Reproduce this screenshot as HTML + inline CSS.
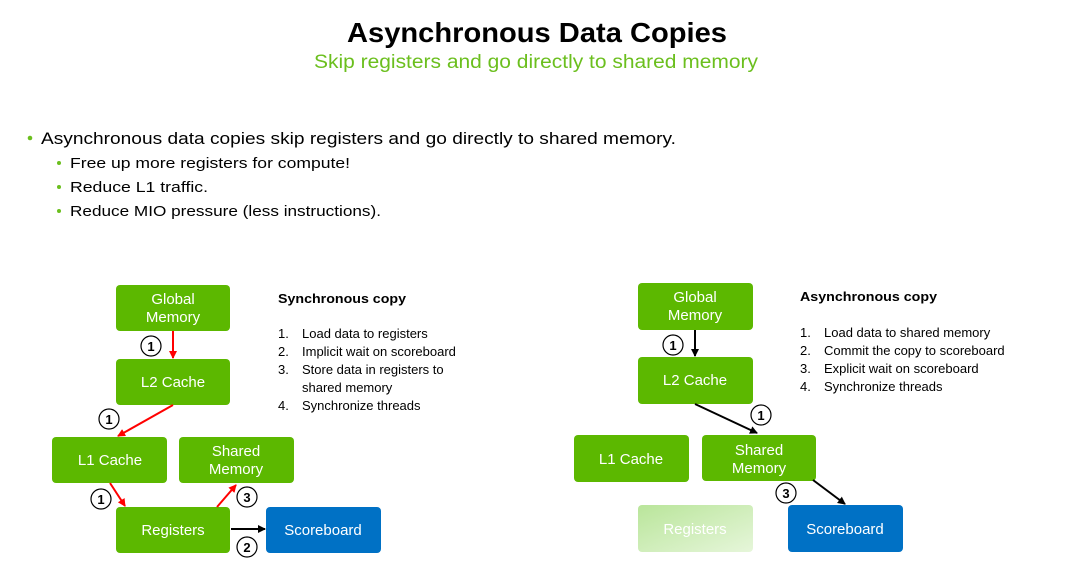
<!DOCTYPE html>
<html><head><meta charset="utf-8"><style>
html,body{margin:0;padding:0;background:#fff;}
svg{display:block;font-family:"Liberation Sans",sans-serif;}
</style></head><body>
<svg width="1080" height="570" viewBox="0 0 1080 570" xmlns="http://www.w3.org/2000/svg">
<defs>
<marker id="ar" markerWidth="8" markerHeight="8" refX="7" refY="4" orient="auto" markerUnits="userSpaceOnUse"><path d="M0,0 L8,4 L0,8 z" fill="#ff0000"/></marker>
<marker id="ab" markerWidth="8" markerHeight="8" refX="7" refY="4" orient="auto" markerUnits="userSpaceOnUse"><path d="M0,0 L8,4 L0,8 z" fill="#000"/></marker>
<linearGradient id="fade" x1="0" y1="0" x2="1" y2="1"><stop offset="0" stop-color="#b9e59a"/><stop offset="1" stop-color="#e6f6da"/></linearGradient>
</defs>
<text x="537" y="42" text-anchor="middle" font-size="28" font-weight="bold" textLength="380" lengthAdjust="spacingAndGlyphs">Asynchronous Data Copies</text>
<text x="536" y="68" text-anchor="middle" font-size="19" fill="#6bbf1e" textLength="444" lengthAdjust="spacingAndGlyphs">Skip registers and go directly to shared memory</text>
<g font-size="17">
<circle cx="30" cy="138" r="2.3" fill="#6bbf1e"/>
<text x="41" y="144" textLength="635" lengthAdjust="spacingAndGlyphs">Asynchronous data copies skip registers and go directly to shared memory.</text>
</g>
<g font-size="15">
<circle cx="59" cy="163" r="2" fill="#6bbf1e"/><text x="70" y="168" textLength="280" lengthAdjust="spacingAndGlyphs">Free up more registers for compute!</text>
<circle cx="59" cy="187" r="2" fill="#6bbf1e"/><text x="70" y="192" textLength="138" lengthAdjust="spacingAndGlyphs">Reduce L1 traffic.</text>
<circle cx="59" cy="211" r="2" fill="#6bbf1e"/><text x="70" y="216" textLength="311" lengthAdjust="spacingAndGlyphs">Reduce MIO pressure (less instructions).</text>
</g>
<!-- left boxes -->
<g fill="#5cb800">
<rect x="116" y="285" width="114" height="46" rx="4"/>
<rect x="116" y="359" width="114" height="46" rx="4"/>
<rect x="52" y="437" width="115" height="46" rx="4"/>
<rect x="179" y="437" width="115" height="46" rx="4"/>
<rect x="116" y="507" width="114" height="46" rx="4"/>
<rect x="638" y="283" width="115" height="47" rx="4"/>
<rect x="638" y="357" width="115" height="47" rx="4"/>
<rect x="574" y="435" width="115" height="47" rx="4"/>
<rect x="702" y="435" width="114" height="46" rx="4"/>
</g>
<rect x="266" y="507" width="115" height="46" rx="4" fill="#0071c5"/>
<rect x="788" y="505" width="115" height="47" rx="4" fill="#0071c5"/>
<rect x="638" y="505" width="115" height="47" rx="4" fill="url(#fade)"/>
<g fill="#fff" font-size="15" text-anchor="middle">
<text x="173" y="304">Global</text><text x="173" y="322">Memory</text>
<text x="173" y="387">L2 Cache</text>
<text x="110" y="465">L1 Cache</text>
<text x="236" y="456">Shared</text><text x="236" y="474">Memory</text>
<text x="173" y="535">Registers</text>
<text x="323" y="535">Scoreboard</text>
<text x="695" y="302">Global</text><text x="695" y="320">Memory</text>
<text x="695" y="385">L2 Cache</text>
<text x="631" y="464">L1 Cache</text>
<text x="759" y="455">Shared</text><text x="759" y="473">Memory</text>
<text x="695" y="534">Registers</text>
<text x="845" y="534">Scoreboard</text>
</g>
<!-- arrows -->
<g stroke="#ff0000" stroke-width="2" fill="none" marker-end="url(#ar)">
<line x1="173" y1="331" x2="173" y2="358"/>
<line x1="173" y1="405" x2="118" y2="436"/>
<line x1="110" y1="483" x2="125" y2="506"/>
<line x1="217" y1="507" x2="236" y2="485"/>
</g>
<g stroke="#000" stroke-width="2" fill="none" marker-end="url(#ab)">
<line x1="231" y1="529" x2="265" y2="529"/>
<line x1="695" y1="330" x2="695" y2="356"/>
<line x1="695" y1="404" x2="757" y2="433"/>
<line x1="813" y1="480" x2="845" y2="504"/>
</g>
<g fill="#fff" stroke="#000" stroke-width="1.2">
<circle cx="151" cy="346" r="10"/><circle cx="109" cy="419" r="10"/><circle cx="101" cy="499" r="10"/><circle cx="247" cy="497" r="10"/><circle cx="247" cy="547" r="10"/>
<circle cx="673" cy="345" r="10"/><circle cx="761" cy="415" r="10"/><circle cx="786" cy="493" r="10"/>
</g>
<g font-size="13" font-weight="bold" text-anchor="middle">
<text x="151" y="351">1</text><text x="109" y="424">1</text><text x="101" y="504">1</text><text x="247" y="502">3</text><text x="247" y="552">2</text>
<text x="673" y="350">1</text><text x="761" y="420">1</text><text x="786" y="498">3</text>
</g>
<g font-size="13">
<text x="278" y="303" font-weight="bold" textLength="128" lengthAdjust="spacingAndGlyphs">Synchronous copy</text>
<text x="278" y="338">1.</text><text x="302" y="338">Load data to registers</text>
<text x="278" y="356">2.</text><text x="302" y="356">Implicit wait on scoreboard</text>
<text x="278" y="374">3.</text><text x="302" y="374">Store data in registers to</text>
<text x="302" y="392">shared memory</text>
<text x="278" y="410">4.</text><text x="302" y="410">Synchronize threads</text>
<text x="800" y="301" font-weight="bold" textLength="137" lengthAdjust="spacingAndGlyphs">Asynchronous copy</text>
<text x="800" y="337">1.</text><text x="824" y="337">Load data to shared memory</text>
<text x="800" y="355">2.</text><text x="824" y="355">Commit the copy to scoreboard</text>
<text x="800" y="373">3.</text><text x="824" y="373">Explicit wait on scoreboard</text>
<text x="800" y="391">4.</text><text x="824" y="391">Synchronize threads</text>
</g>
</svg>
</body></html>
